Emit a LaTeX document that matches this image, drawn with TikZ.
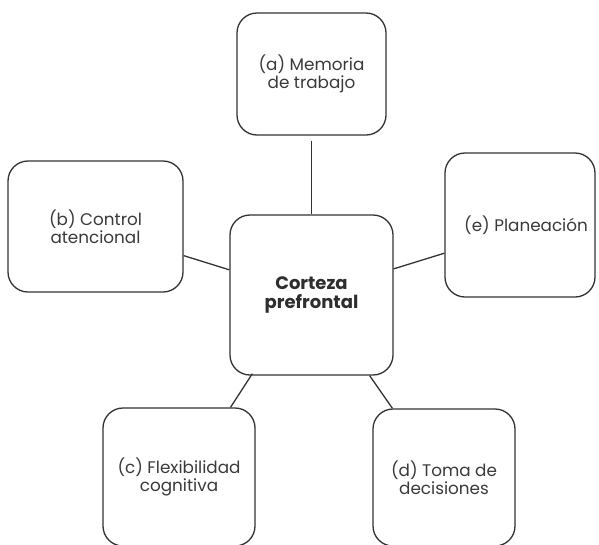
\documentclass[tikz,border=0pt]{standalone}
\usepackage{fontspec}
\setmainfont{Poppins}
\usetikzlibrary{calc}
\definecolor{ink}{HTML}{333333}
\definecolor{txt}{HTML}{3A3A3A}
\tikzset{
  leaf/.style={draw=ink, line width=1.3pt, rounded corners=20pt, fill=white,
    align=center, text=txt, font=\fontsize{16.8}{18.5}\selectfont, inner sep=0pt},
  hub/.style={leaf, font=\bfseries\fontsize{18}{19.5}\selectfont, text=ink!90!black},
  link/.style={draw=ink, line width=1.3pt}
}
\begin{document}
\begin{tikzpicture}[x=1pt,y=-1pt]
\useasboundingbox (0,0) rectangle (599,544);
\node[hub, minimum width=163pt, minimum height=160pt] (c) at (311.5,295) {Corteza\\prefrontal};
\node[leaf, minimum width=149pt, minimum height=122pt] (a) at (311.5,74) {(a) Memoria\\de trabajo};
\node[leaf, minimum width=175pt, minimum height=131pt] (b) at (95.5,226.5) {(b) Control\\atencional};
\node[leaf, minimum width=150pt, minimum height=144pt] (e) at (520,225) {\hspace*{12pt}(e) Planeación};
\node[leaf, minimum width=152pt, minimum height=138pt] (f) at (179,477) {(c) Flexibilidad\\cognitiva};
\node[leaf, minimum width=142pt, minimum height=137pt] (d) at (444,477.5) {(d) Toma de\\decisiones};
\coordinate (a1) at ($(a.south)+(0,5)$);
\draw[link] (a1) -- (c.north);
\draw[link] ($(b.north east)!0.72!(b.south east)$) -- ($(c.north west)!0.344!(c.south west)$);
\draw[link] ($(c.north east)!0.338!(c.south east)$) -- ($(e.north west)!0.694!(e.south west)$);
\draw[link] ($(f.north west)!0.836!(f.north east)$) -- ($(c.south west)+(23,-2)$);
\draw[link] ($(d.north west)!0.14!(d.north east)$) -- ($(c.south east)+(-24,0)$);
\end{tikzpicture}
\end{document}
